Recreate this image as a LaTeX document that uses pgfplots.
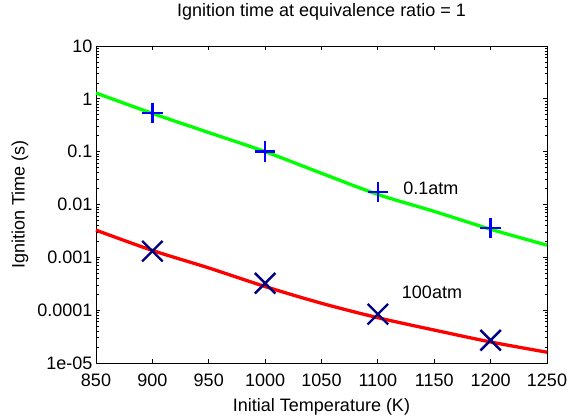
\documentclass[border=0pt]{standalone}
\usepackage{fontspec}
\setmainfont{Liberation Sans}
\usepackage{pgfplots}
\pgfplotsset{compat=1.18}

\begin{document}
\begin{tikzpicture}
\begin{axis}[
    scale only axis,
    width=451pt, height=317pt,
    xmin=850, xmax=1250,
    ymode=log,
    ymin=1e-5, ymax=10,
    xtick={850,900,...,1250},
    ytick={1e-5,1e-4,1e-3,1e-2,1e-1,1,10},
    yticklabels={1e-05,0.0001,0.001,0.01,0.1,1,10},
    /pgf/number format/assume math mode=true,
    /pgf/number format/set thousands separator={},
    tick align=inside,
    major tick length=4pt,
    minor tick length=2.5pt,
    tick style={black, line width=0.8pt},
    axis line style={line width=0.9pt},
    every tick label/.append style={font=\fontsize{18}{21}\selectfont},
    xticklabel style={yshift=-7pt},
    title={Ignition time at equivalence ratio = 1},
    title style={font=\fontsize{18}{21}\selectfont, at={(axis description cs:0.5,1.088)}, anchor=center},
    xlabel={Initial Temperature (K)},
    xlabel style={font=\fontsize{18}{21}\selectfont, at={(axis description cs:0.5,-0.139)}, anchor=center},
    ylabel={Ignition Time (s)},
    ylabel style={font=\fontsize{18}{21}\selectfont, at={(axis description cs:-0.1685,0.5)}, anchor=center},
    clip=false,
]
% 0.1 atm curve
\addplot[color={rgb,255:red,0;green,255;blue,0}, line width=3.3pt, smooth, no marks] coordinates {
    (850,1.29) (900,0.53) (950,0.23) (1000,0.1) (1050,0.039)
    (1100,0.0155) (1150,0.0074) (1200,0.0034) (1250,0.0017)
};
% 100 atm curve
\addplot[color={rgb,255:red,255;green,0;blue,0}, line width=3.3pt, smooth, no marks] coordinates {
    (850,0.00327) (900,0.00135) (950,0.00063) (1000,0.00028) (1050,0.000135)
    (1100,7.2e-5) (1150,4.2e-5) (1200,2.5e-5) (1250,1.6e-5)
};
% measured points
\addplot[only marks, mark=+, mark size=10.3pt, color={rgb,255:red,0;green,0;blue,255}, line width=2.6pt] coordinates {
    (900,0.54) (1000,0.1) (1100,0.0172) (1200,0.00357)
};
\addplot[only marks, mark=x, mark size=14.5pt, color={rgb,255:red,0;green,0;blue,128}, line width=2.4pt] coordinates {
    (900,0.00131) (1000,0.000324) (1100,8.4e-5) (1200,2.7e-5)
};
\node[font=\fontsize{18}{21}\selectfont] at (axis cs:1147,0.02) {0.1atm};
\node[font=\fontsize{18}{21}\selectfont] at (axis cs:1148,2.2e-4) {100atm};
\coordinate (sw) at (rel axis cs:0,0);
\coordinate (ne) at (rel axis cs:1,1);
\end{axis}
\useasboundingbox ([shift={(-96pt,-53pt)}]sw) rectangle ([shift={(25pt,46pt)}]ne);
\end{tikzpicture}
\end{document}
